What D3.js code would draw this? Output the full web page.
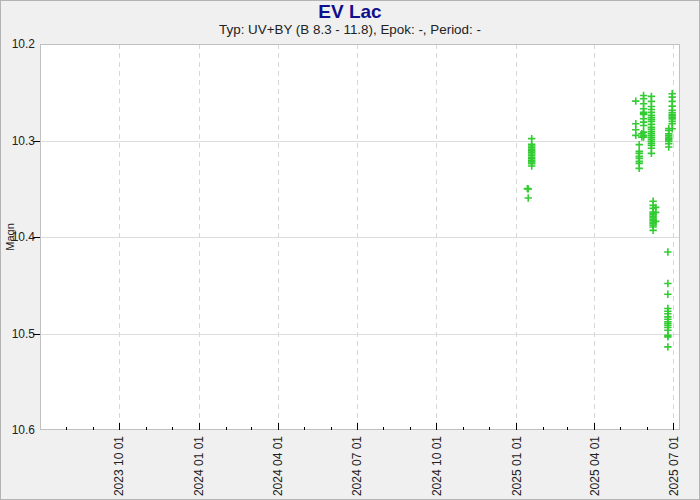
<!DOCTYPE html>
<html>
<head>
<meta charset="utf-8">
<script src="https://cdn.jsdelivr.net/npm/d3@7"></script>
<style>
  html, body { margin: 0; padding: 0; background: #f0f0f0; }
  svg { display: block; font-family: "Liberation Sans", Arial, sans-serif; }
</style>
</head>
<body>
<svg id="chart" width="700" height="500"></svg>
<script>
// ---- Data ----
const title = "EV Lac";
const subtitle = "Typ: UV+BY (B 8.3 - 11.8), Epok: -, Period: -";
const yLabel = "Magn";
const xDomain = ["2023-07-02", "2025-07-09"];
const yDomain = [10.2, 10.6];
const yTicks = [10.2, 10.3, 10.4, 10.5, 10.6];
const xMajorTicks = ["2023-10-01", "2024-01-01", "2024-04-01", "2024-07-01",
                     "2024-10-01", "2025-01-01", "2025-04-01", "2025-07-01"];

// observation nights and magnitudes measured that night
const nightDates = [
  "2025-01-19", "2025-01-14", "2025-01-15",
  "2025-05-19", "2025-05-23", "2025-05-26", "2025-05-28",
  "2025-06-06", "2025-06-08", "2025-06-11",
  "2025-06-25", "2025-06-26", "2025-06-30"
];
const nightMagn = [
  [10.2981, 10.3040, 10.3057, 10.3074, 10.3090, 10.3107, 10.3123, 10.3140,
   10.3156, 10.3173, 10.3189, 10.3206, 10.3222, 10.3240, 10.3265],
  [10.3499],
  [10.3501, 10.3596],
  [10.2592, 10.2826, 10.2888, 10.2947],
  [10.3043, 10.3113, 10.3133, 10.3165, 10.3185, 10.3216, 10.3237, 10.3289],
  [10.2930, 10.2965],
  [10.2533, 10.2567, 10.2619, 10.2671, 10.2709, 10.2722, 10.2730, 10.2774,
   10.2810, 10.2844, 10.2913, 10.2947, 10.2965],
  [10.2543, 10.2595, 10.2647, 10.2678, 10.2709, 10.2740, 10.2761, 10.2781,
   10.2802, 10.2833, 10.2864, 10.2885, 10.2906, 10.2926, 10.2947, 10.2968,
   10.2988, 10.3009, 10.3030, 10.3050, 10.3081, 10.3133],
  [10.3630, 10.3672, 10.3703, 10.3741, 10.3755, 10.3770, 10.3786, 10.3801,
   10.3817, 10.3832, 10.3848, 10.3863, 10.3879, 10.3896, 10.3931],
  [10.3693, 10.3745, 10.3838],
  [10.4155, 10.4482, 10.4593, 10.4741, 10.4769, 10.4795, 10.4828, 10.4852,
   10.4880, 10.4899, 10.4917, 10.4938, 10.4966, 10.5018, 10.5035, 10.5139],
  [10.2875, 10.2895, 10.2930, 10.2947, 10.2963, 10.2978, 10.2994, 10.3009,
   10.3033, 10.3068],
  [10.2516, 10.2551, 10.2595, 10.2644, 10.2688, 10.2712, 10.2730, 10.2745,
   10.2761, 10.2776, 10.2802, 10.2826, 10.2878]
];

// ---- Layout ----
const W = 700, H = 500;
const plot = { left: 40, right: 680, top: 44, bottom: 430 };
const parse = d3.timeParse("%Y-%m-%d");
const green = "#33cc33";

const svg = d3.select("#chart");

svg.append("rect").attr("x", 0.5).attr("y", 0.5).attr("width", W - 1).attr("height", H - 1)
  .attr("fill", "#f0f0f0").attr("stroke", "#b4b4b4");

const x = d3.scaleTime().domain(xDomain.map(parse)).range([plot.left, plot.right]);
const y = d3.scaleLinear().domain(yDomain).range([plot.top, plot.bottom]);

// plot background
svg.append("rect").attr("x", plot.left).attr("y", plot.top)
  .attr("width", plot.right - plot.left).attr("height", plot.bottom - plot.top)
  .attr("fill", "#ffffff");

// horizontal grid
svg.append("g").selectAll("line").data(yTicks.slice(1, -1)).join("line")
  .attr("x1", plot.left).attr("x2", plot.right)
  .attr("y1", d => Math.round(y(d)) + 0.5).attr("y2", d => Math.round(y(d)) + 0.5)
  .attr("stroke", "#dcdcdc").attr("stroke-width", 1);

// vertical dashed grid
const majors = xMajorTicks.map(parse);
svg.append("g").selectAll("line").data(majors).join("line")
  .attr("x1", d => Math.round(x(d)) + 0.5).attr("x2", d => Math.round(x(d)) + 0.5)
  .attr("y1", plot.top).attr("y2", plot.bottom)
  .attr("stroke", "#d8d8d8").attr("stroke-width", 1).attr("stroke-dasharray", "5,4");

// plot border
svg.append("rect").attr("x", plot.left + 0.5).attr("y", plot.top + 0.5)
  .attr("width", plot.right - plot.left - 1).attr("height", plot.bottom - plot.top - 1)
  .attr("fill", "none").attr("stroke", "#c0c0c0");

// x axis: minor monthly ticks (inward) and major ticks
const months = d3.timeMonth.range(x.domain()[0], x.domain()[1]);
svg.append("g").selectAll("line").data(months).join("line")
  .attr("x1", d => Math.round(x(d)) + 0.5).attr("x2", d => Math.round(x(d)) + 0.5)
  .attr("y1", plot.bottom).attr("y2", d => majors.some(m => +m === +d) ? plot.bottom - 7 : plot.bottom - 3)
  .attr("stroke", "#000").attr("stroke-width", 1);

svg.append("g").selectAll("text").data(majors).join("text")
  .attr("transform", d => `translate(${x(d) + 0.5},${plot.bottom + 6}) rotate(-90)`)
  .attr("text-anchor", "end").attr("dominant-baseline", "central")
  .attr("font-size", 12).attr("fill", "#222")
  .text(d3.timeFormat("%Y %m %d"));

// y axis ticks and labels
svg.append("g").selectAll("line").data(yTicks.slice(1, -1)).join("line")
  .attr("x1", plot.left - 7).attr("x2", plot.left)
  .attr("y1", d => Math.round(y(d)) + 0.5).attr("y2", d => Math.round(y(d)) + 0.5)
  .attr("stroke", "#000");
svg.append("g").selectAll("text").data(yTicks).join("text")
  .attr("x", plot.left - 5).attr("y", d => y(d))
  .attr("text-anchor", "end").attr("dominant-baseline", "central")
  .attr("font-size", 12).attr("fill", "#222")
  .text(d => d3.format(".1f")(d));

svg.append("text")
  .attr("transform", `translate(10,${(plot.top + plot.bottom) / 2}) rotate(-90)`)
  .attr("text-anchor", "middle").attr("dominant-baseline", "central")
  .attr("font-size", 11).attr("fill", "#222").text(yLabel);

// titles
svg.append("text").attr("x", W / 2).attr("y", 18).attr("text-anchor", "middle")
  .attr("font-size", 19).attr("font-weight", "bold").attr("fill", "#10108c").text(title);
svg.append("text").attr("x", W / 2).attr("y", 34).attr("text-anchor", "middle")
  .attr("font-size", 13.4).attr("fill", "#222").text(subtitle);

// points
const pts = [];
nightDates.forEach((d, i) => nightMagn[i].forEach(m => pts.push({ date: parse(d), magn: m })));
const arm = 3.7;
const pg = svg.append("g").attr("stroke", green).attr("stroke-width", 1.6).attr("fill", "none");
pg.selectAll("path").data(pts).join("path")
  .attr("d", p => {
    const cx = x(p.date), cy = y(p.magn);
    return `M${cx - arm},${cy}H${cx + arm}M${cx},${cy - arm}V${cy + arm}`;
  });
</script>
</body>
</html>
